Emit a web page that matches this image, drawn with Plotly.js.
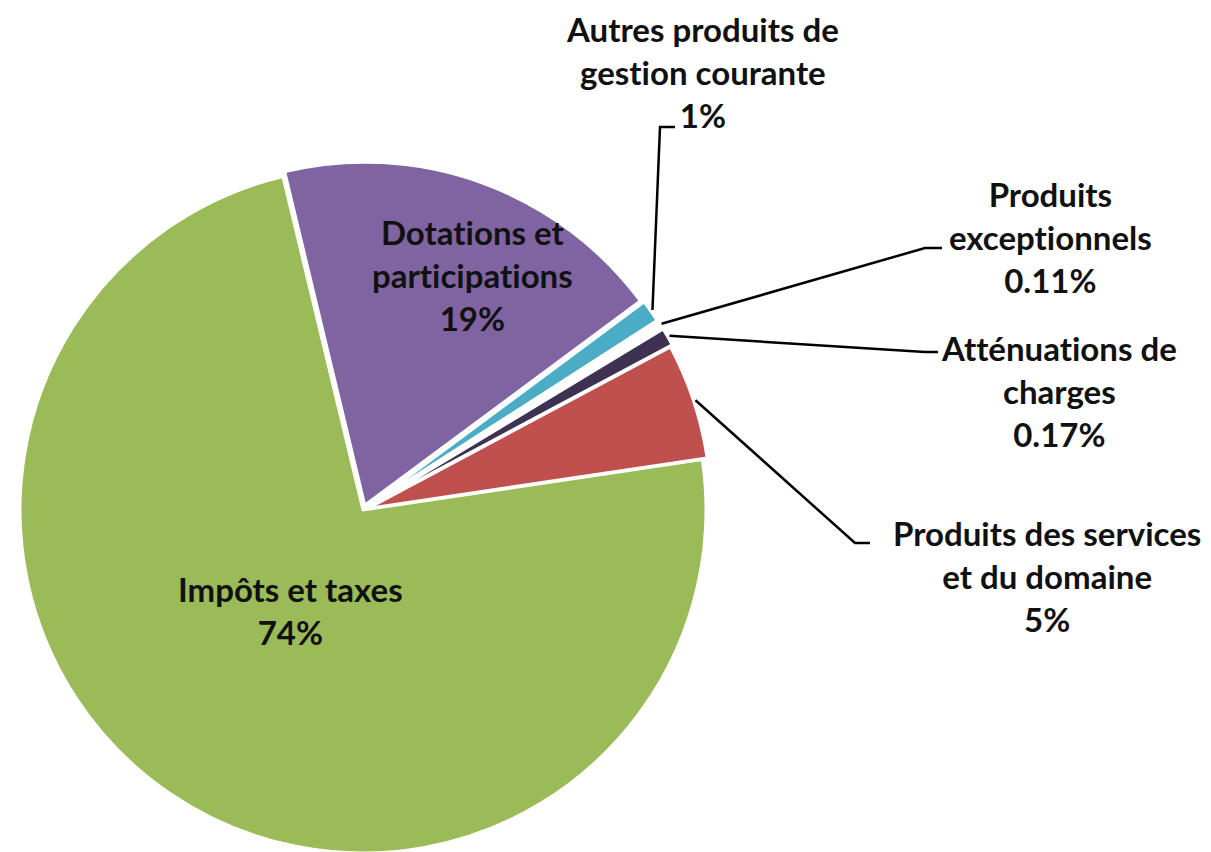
<!DOCTYPE html>
<html><head><meta charset="utf-8">
<script src="https://cdn.plot.ly/plotly-3.0.1.min.js"></script>
<style>html,body{margin:0;padding:0;overflow:hidden;background:#fff} text{font-variant-ligatures:none;font-feature-settings:"liga" 0,"clig" 0;}</style>
</head><body><div id="chart"></div>
<script>
// ---- data ----
const categories = ["Dotations et participations", "Autres produits de gestion courante", "Produits exceptionnels", "Atténuations de charges", "Produits des services et du domaine", "Impôts et taxes"];
const shares = [18.6, 1.05, 0.45, 0.85, 5.45, 73.6];
const percentLabels = ["19%", "1%", "0.11%", "0.17%", "5%", "74%"];
const labelLines = [["Dotations et", "participations"], ["Autres produits de", "gestion courante"], ["Produits", "exceptionnels"], ["Atténuations de", "charges"], ["Produits des services", "et du domaine"], ["Impôts et taxes"]];

// ---- style / layout ----
const colors = ["#8064A2", "#4BACC6", "#FFFFFF", "#3F3151", "#C0504D", "#9BBB59"];
const pulls = [0.015, 0.02, 0.02, 0.022, 0.015, 0];
const W = 1211, H = 870;
const cx = 363, cy = 510, R = 343, rotation = -13.5;
const maxPull = Math.max(...pulls);
const half = R * (1 + maxPull);
// label centers (px) and leader elbows (px), null = inside label
const labelPos = [[472, 275], [702, 72], [1050, 237], [1059, 391], [1047, 576], [290, 610]];
const leaderElbow = [null, [[660, 127], [675, 127]], [[925, 248], [942, 248]], [[925, 352], [938, 352]], [[855, 543], [870, 543]], null];

const px = x => x / W;
const py = y => 1 - y / H;
const total = shares.reduce((a, b) => a + b, 0);

const font = {family: "Lato, 'Open Sans', sans-serif", size: 33, color: "#111", weight: "bold"};
const annotations = [];
const shapes = [];
let cum = 0;
shares.forEach((v, i) => {
  const mid = (rotation + 360 * (cum + v / 2) / total) * Math.PI / 180;
  cum += v;
  const lines = labelLines[i].concat([percentLabels[i]]);
  annotations.push({
    xref: "paper", yref: "paper", x: px(labelPos[i][0]), y: py(labelPos[i][1]),
    xanchor: "center", yanchor: "middle", align: "center", showarrow: false,
    text: lines.join("<br>"), font: font
  });
  if (leaderElbow[i]) {
    const r = R * (1 + pulls[i]) + 2;
    const tx = cx + r * Math.sin(mid), ty = cy - r * Math.cos(mid);
    const e = leaderElbow[i];
    shapes.push({
      type: "path", xref: "paper", yref: "paper",
      path: `M ${px(tx)},${py(ty)} L ${px(e[0][0])},${py(e[0][1])} L ${px(e[1][0])},${py(e[1][1])}`,
      line: {color: "#000", width: 2.5}
    });
  }
});

const trace = {
  type: "pie", labels: categories, values: shares, sort: false, direction: "clockwise",
  rotation: rotation, pull: pulls, textinfo: "none", hoverinfo: "label+percent",
  marker: {colors: colors, line: {color: "#fff", width: 3}},
  domain: {x: [px(cx - half), px(cx + half)], y: [py(cy + half), py(cy - half)]}
};

Plotly.newPlot("chart", [trace], {
  width: W, height: H, margin: {l: 0, r: 0, t: 0, b: 0},
  paper_bgcolor: "#fff", showlegend: false,
  annotations: annotations, shapes: shapes
}, {displayModeBar: false, staticPlot: true});
</script></body></html>
